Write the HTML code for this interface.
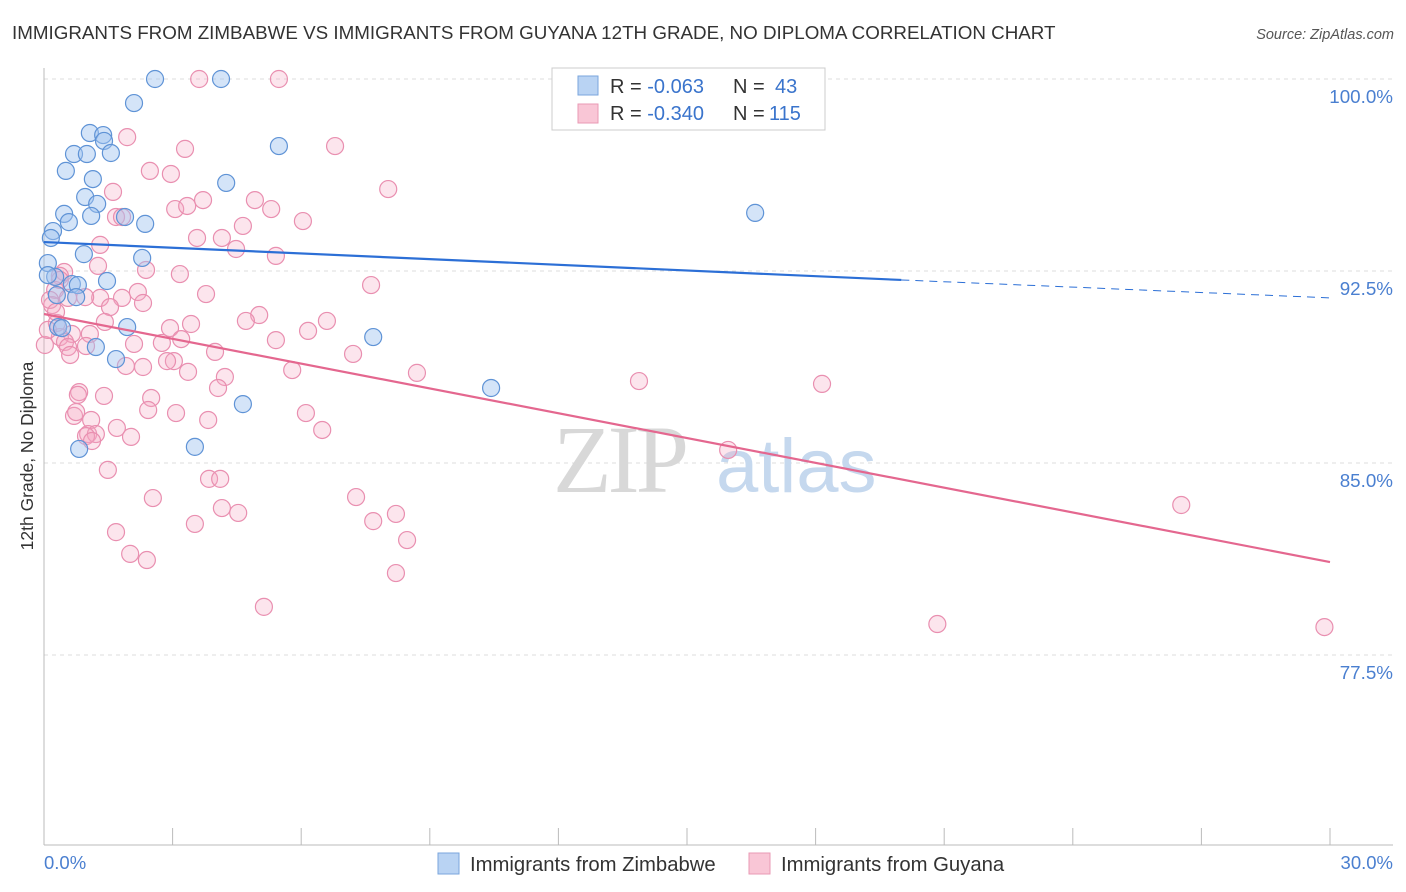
<!DOCTYPE html>
<html><head><meta charset="utf-8">
<style>
body{margin:0;background:#fff;font-family:"Liberation Sans",sans-serif;}
svg{display:block}
</style></head><body>
<svg id="chart" width="1406" height="892" xmlns="http://www.w3.org/2000/svg">
<text x="12" y="39" font-size="18.8" fill="#333">IMMIGRANTS FROM ZIMBABWE VS IMMIGRANTS FROM GUYANA 12TH GRADE, NO DIPLOMA CORRELATION CHART</text>
<text x="1394" y="39" font-size="14.5" fill="#555" font-style="italic" text-anchor="end">Source: ZipAtlas.com</text>
<g id="grid"></g>
<g>
<text x="553" y="492" font-size="96" font-family="Liberation Serif" fill="#d8d8d8" letter-spacing="-4">ZIP</text>
<text x="716" y="492" font-size="76" fill="#c5d8ee">atlas</text>
</g>
<line x1="44" y1="68" x2="44" y2="845" stroke="#bbb"/>
<line x1="44" y1="845" x2="1393" y2="845" stroke="#bbb"/>
<g id="xticks"></g>
<g id="yticks"></g>
<text x="44" y="869" font-size="18.5" fill="#4a7fd0">0.0%</text>
<text x="1393" y="869" font-size="18.5" fill="#4a7fd0" text-anchor="end">30.0%</text>
<text transform="translate(33,456) rotate(-90)" font-size="17.5" fill="#333" text-anchor="middle">12th Grade, No Diploma</text>
<g id="pinkpts"></g>
<g id="bluepts"></g>
<g id="lines"></g>
<g>
<rect x="552" y="68" width="273" height="62" fill="#fff" stroke="#ccc"/>
<rect x="578" y="76" width="20" height="19" fill="#b9d3f3" stroke="#7aa6dc"/>
<rect x="578" y="104" width="20" height="19" fill="#f9c6d6" stroke="#e99ab4"/>
<text x="610" y="93" font-size="20" fill="#333">R = <tspan fill="#3a74cc">-0.063</tspan><tspan x="733">N = </tspan><tspan fill="#3a74cc" x="775">43</tspan></text>
<text x="610" y="120" font-size="20" fill="#333">R = <tspan fill="#3a74cc">-0.340</tspan><tspan x="733">N = </tspan><tspan fill="#3a74cc" x="769">115</tspan></text>
</g>
<g>
<rect x="438" y="853" width="21" height="21" fill="#b9d3f3" stroke="#7aa6dc"/>
<text x="470" y="871" font-size="20.3" fill="#333">Immigrants from Zimbabwe</text>
<rect x="749" y="853" width="21" height="21" fill="#f9c6d6" stroke="#e99ab4"/>
<text x="781" y="871" font-size="20.3" fill="#333">Immigrants from Guyana</text>
</g>
</svg>
<script>
const blueX=[2.59,4.13,2.10,1.07,1.38,1.40,0.70,1.00,1.56,5.48,0.51,1.14,4.25,0.96,1.24,0.47,1.10,1.89,0.58,2.36,16.59,0.21,0.16,0.93,2.29,0.09,1.47,0.26,0.65,0.79,0.75,0.30,0.33,0.42,1.94,7.68,1.21,1.68,10.43,4.64,3.52,0.82,0.09];
const blueY=[100,100,99.06,97.89,97.81,97.58,97.07,97.07,97.11,97.38,96.41,96.09,95.94,95.39,95.12,94.73,94.65,94.61,94.41,94.34,94.77,94.06,93.79,93.16,93.01,92.81,92.11,92.27,91.99,91.95,91.48,91.56,90.31,90.27,90.31,89.92,89.53,89.06,87.93,87.30,85.63,85.55,92.34];
const pinkX=[3.62,5.48,1.94,6.79,3.29,2.47,2.96,8.03,1.61,3.71,4.92,3.06,3.34,5.30,1.68,1.82,6.04,4.64,3.57,4.15,4.48,1.31,5.41,1.26,2.38,0.47,0.37,3.17,7.63,0.26,2.19,3.78,1.31,1.82,0.56,0.96,2.31,0.19,1.54,5.02,6.60,4.71,3.43,1.42,0.30,2.94,6.16,0.65,1.07,0.37,3.20,5.41,0.49,2.75,0.56,2.10,0.98,7.21,3.99,0.61,3.03,2.87,1.91,2.31,5.79,3.36,8.70,4.22,13.88,18.15,4.06,0.82,0.79,1.40,2.50,2.43,6.11,3.08,3.83,0.70,0.75,1.10,1.70,6.49,1.03,1.21,0.98,2.03,1.12,15.96,1.49,3.85,4.11,2.54,7.28,4.15,4.53,8.21,26.53,7.68,3.52,1.68,8.47,2.01,2.40,8.21,5.13,20.84,29.87,0.02,0.09,0.14,0.28,0.37];
const pinkY=[100,100,97.73,97.38,97.27,96.41,96.29,95.70,95.59,95.27,95.27,94.92,95.04,94.92,94.61,94.61,94.45,94.26,93.79,93.79,93.36,93.52,93.09,92.70,92.54,92.46,92.31,92.38,91.95,91.76,91.68,91.60,91.45,91.45,91.45,91.48,91.25,91.17,91.09,90.78,90.55,90.55,90.43,90.51,90.47,90.27,90.16,90.04,90.04,89.92,89.84,89.80,89.73,89.69,89.53,89.65,89.57,89.26,89.34,89.22,88.98,88.98,88.79,88.75,88.63,88.56,88.52,88.36,88.20,88.09,87.93,87.77,87.66,87.62,87.54,87.07,86.95,86.95,86.68,86.84,86.99,86.68,86.37,86.29,86.13,86.13,86.05,86.02,85.86,85.51,84.73,84.38,84.38,83.63,83.67,83.24,83.05,83.01,83.36,82.73,82.62,82.30,81.99,81.45,81.21,80.70,79.38,78.71,78.59,89.61,90.20,91.37,90.90,92.15];
const yTicks=[100,92.5,85,77.5];
const yTickLabels=["100.0%","92.5%","85.0%","77.5%"];
const xTicks=[0,3,6,9,12,15,18,21,24,27,30];
const blueTrend=[93.63,92.15,91.45]; // at x=0, 20, 30
const pinkTrend=[90.82,81.13]; // at x=0, 30
const NS="http://www.w3.org/2000/svg";
const xs=v=>44+v/30*1286;
const ys=v=>79+(100-v)/7.5*192;
function mk(tag,attrs,parent){const e=document.createElementNS(NS,tag);for(const k in attrs)e.setAttribute(k,attrs[k]);parent.appendChild(e);return e;}
const grid=document.getElementById('grid'),yt=document.getElementById('yticks'),xt=document.getElementById('xticks');
yTicks.forEach((t,i)=>{
 const l=mk('line',{x1:44,x2:1393,y1:ys(t),y2:ys(t),stroke:'#ddd','stroke-dasharray':'4,4'},grid);
 
 
 const tx=mk('text',{x:1393,y:ys(t)+24,'font-size':18.8,fill:'#4a7fd0','text-anchor':'end'},yt);
 tx.textContent=yTickLabels[i];
 
 
});
xTicks.forEach(t=>{
 const l=mk('line',{x1:xs(t),x2:xs(t),y1:828,y2:845,stroke:'#bbb'},xt);
 
 
});
const pg=document.getElementById('pinkpts');
pinkX.forEach((x,i)=>{
 const c=mk('circle',{cx:xs(x),cy:ys(pinkY[i]),r:8.5,fill:'rgba(244,170,196,0.3)',stroke:'#e98fb0','stroke-width':1.2},pg);
 
 
});
const bg=document.getElementById('bluepts');
blueX.forEach((x,i)=>{
 const c=mk('circle',{cx:xs(x),cy:ys(blueY[i]),r:8.5,fill:'rgba(160,196,240,0.45)',stroke:'#5f93d6','stroke-width':1.2},bg);
 
 
});
const lg=document.getElementById('lines');
const b1=mk('line',{x1:xs(0),y1:ys(blueTrend[0]),x2:xs(20),y2:ys(blueTrend[1]),stroke:'#2c6fd6','stroke-width':2.2},lg);


const b2=mk('line',{x1:xs(20),y1:ys(blueTrend[1]),x2:xs(30),y2:ys(blueTrend[2]),stroke:'#2c6fd6','stroke-width':1,'stroke-dasharray':'8,6'},lg);


const p1=mk('line',{x1:xs(0),y1:ys(pinkTrend[0]),x2:xs(30),y2:ys(pinkTrend[1]),stroke:'#e4678f','stroke-width':2.2},lg);


</script>
</body></html>
